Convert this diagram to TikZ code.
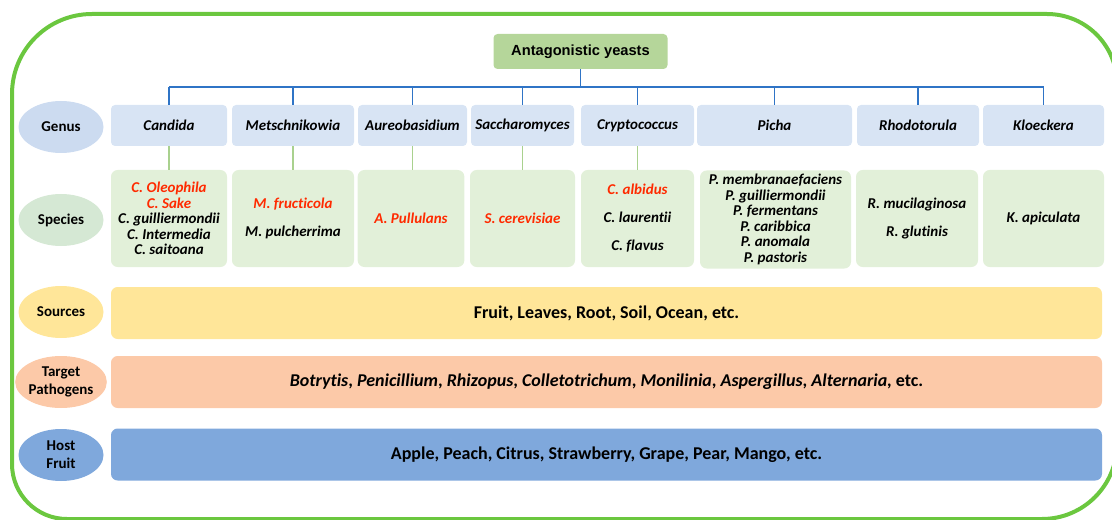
\documentclass[tikz,border=0pt]{standalone}
\usepackage{fontspec}
\setmainfont{Carlito}[Ligatures={NoCommon}]
\newfontfamily\arialbold{Liberation Sans}
\definecolor{bordergreen}{HTML}{6BC73F}
\definecolor{topgreen}{HTML}{B5D69A}
\definecolor{genusblue}{HTML}{D8E4F4}
\definecolor{genusell}{HTML}{CCDBF0}
\definecolor{specgreen}{HTML}{E2F0D9}
\definecolor{specell}{HTML}{D5E8D4}
\definecolor{srcyellow}{HTML}{FFE699}
\definecolor{tgtorange}{HTML}{FCC9A8}
\definecolor{hostblue}{HTML}{7FA8DC}
\definecolor{treeblue}{HTML}{2F74C6}
\definecolor{linkgreen}{HTML}{A9D18E}
\definecolor{redtxt}{HTML}{FF2A00}
\tikzset{
  genusbox/.style={fill=genusblue, rounded corners=3pt, inner sep=0pt, minimum height=30.75pt,
    font=\fontsize{11.25}{13}\selectfont\bfseries\itshape, align=center},
  specbox/.style={fill=specgreen, rounded corners=5pt, inner sep=0pt, minimum height=72.75pt,
    font=\fontsize{11.25}{11.7}\selectfont\bfseries\itshape, align=center},
  labell/.style={ellipse, inner sep=0pt, minimum width=63.75pt, minimum height=39pt,
    font=\fontsize{11.25}{13.5}\selectfont\bfseries, align=center},
  bar/.style={rounded corners=5pt, inner sep=0pt, minimum width=743.25pt, minimum height=39pt,
    font=\fontsize{13.5}{15}\selectfont\bfseries, align=center},
  treeline/.style={draw=treeblue, line width=1.4pt},
  linkline/.style={draw=linkgreen, line width=1.2pt}
}
\usetikzlibrary{shapes.geometric}
\begin{document}
\begin{tikzpicture}[x=0.75pt,y=0.75pt]
\useasboundingbox (0,0) rectangle (1112,-520);
% border
\draw[bordergreen, line width=3pt] (12,-300) -- (12,-94) arc[start angle=180, end angle=90, radius=80]
  -- (1047,-14) arc[start angle=90, end angle=0, radius=70]
  -- (1117,-444) arc[start angle=0, end angle=-90, radius=75]
  -- (67,-519) arc[start angle=270, end angle=180, radius=55] -- cycle;
% top
\node[fill=topgreen, rounded corners=3pt, minimum width=130.5pt, minimum height=26.25pt, inner sep=0pt,
  font=\fontsize{11}{13}\selectfont\arialbold\bfseries] (top) at (580.5,-51.5) {Antagonistic yeasts};
% genus boxes
\node[genusbox, minimum width=87pt]    (g1) at (169,-125.5) {Candida};
\node[genusbox, minimum width=91.5pt]  (g2) at (293,-125.5) {Metschnikowia};
\node[genusbox, minimum width=81.75pt] (g3) at (412.5,-125.5) {Aureobasidium};
\node[genusbox, minimum width=77.25pt] (g4) at (522.5,-125.5) {Saccharomyces};
\node[genusbox, minimum width=84.75pt] (g5) at (637.5,-125.5) {Cryptococcus};
\node[genusbox, minimum width=116.25pt](g6) at (774.5,-125.5) {Picha};
\node[genusbox, minimum width=91.5pt]  (g7) at (918,-125.5) {Rhodotorula};
\node[genusbox, minimum width=90.75pt] (g8) at (1043.5,-125.5) {Kloeckera};
% species boxes
\node[specbox, minimum width=87pt]    (s1) at (169,-218.5) {\textcolor{redtxt}{C. Oleophila}\\\textcolor{redtxt}{C. Sake}\\C. guilliermondii\\C. Intermedia\\C. saitoana};
\node[specbox, minimum width=91.5pt]  (s2) at (293,-218.5) {\textcolor{redtxt}{M. fructicola}\\[9.3pt]M. pulcherrima};
\node[specbox, minimum width=80pt]    (s3) at (411,-218.5) {\textcolor{redtxt}{A. Pullulans}};
\node[specbox, minimum width=78.75pt] (s4) at (522.5,-218.5) {\textcolor{redtxt}{S. cerevisiae}};
\node[specbox, minimum width=84.75pt] (s5) at (637.5,-218.5) {\textcolor{redtxt}{C. albidus}\\[9.3pt]C. laurentii\\[9.3pt]C. flavus};
\node[specbox, minimum width=113.25pt, minimum height=73.5pt] (s6) at (775.5,-219.5) {P. membranaefaciens\\P. guilliermondii\\P. fermentans\\P. caribbica\\P. anomala\\P. pastoris};
\node[specbox, minimum width=91.5pt]  (s7) at (917,-218.5) {R. mucilaginosa\\[9.3pt]R. glutinis};
\node[specbox, minimum width=90.75pt] (s8) at (1043.5,-218.5) {K. apiculata};
% label ellipses
\node[labell, fill=genusell] (lg) at (61,-127) {Genus};
\node[labell, fill=specell]  (ls) at (61,-220) {Species};
\node[labell, fill=srcyellow] (lsrc) at (61,-312) {Sources};
\node[labell, fill=tgtorange] (ltg) at (61,-382) {Target\\Pathogens};
\node[labell, fill=hostblue]  (lh) at (61,-455) {Host\\Fruit};
% bars
\node[bar, fill=srcyellow] (bsrc) at (606.5,-313) {Fruit, Leaves, Root, Soil, Ocean, etc.};
\node[bar, fill=tgtorange] (btg) at (606.5,-382) {\textit{Botrytis}, \textit{Penicillium}, \textit{Rhizopus}, \textit{Colletotrichum}, \textit{Monilinia}, \textit{Aspergillus}, \textit{Alternaria,} etc.};
\node[bar, fill=hostblue] (bh) at (606.5,-454.5) {Apple, Peach, Citrus, Strawberry, Grape, Pear, Mango, etc.};
% tree
\coordinate (hub) at (580.5,-87);
\draw[treeline] (top.south) -- (hub);
\draw[treeline] (g1.north |- hub) -- (g8.north |- hub);
\foreach \g in {g1,g2,g3,g4,g5,g6,g7,g8}{
  \draw[treeline] (\g.north |- hub) -- (\g.north);
}
% genus to species links
\foreach \g/\s in {g1/s1,g2/s2,g3/s3,g4/s4,g5/s5}{
  \draw[linkline] (\g.south) -- (\g.south |- \s.north);
}
\end{tikzpicture}
\end{document}
